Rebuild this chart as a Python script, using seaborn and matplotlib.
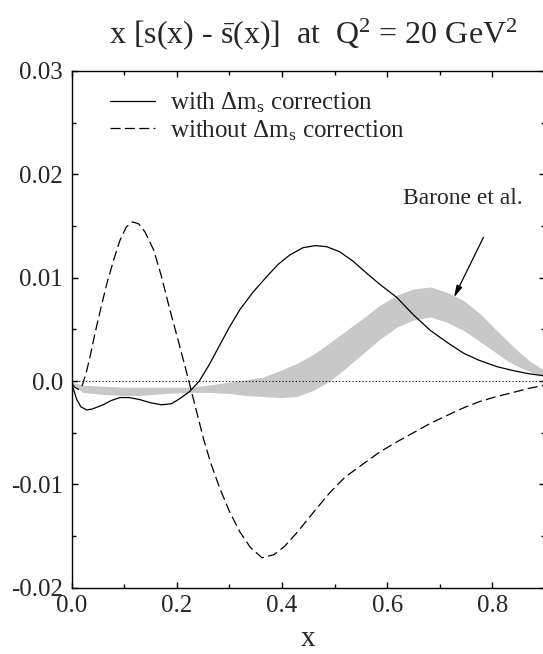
import numpy as np
import pandas as pd
import matplotlib
matplotlib.use("Agg")
import matplotlib.pyplot as plt
from matplotlib.ticker import FixedLocator, FixedFormatter, MultipleLocator
import seaborn as sns

# x [s(x) - sbar(x)] with the Delta m_s correction (solid curve)
x_with = [0.0, 0.005, 0.01, 0.018, 0.029, 0.04, 0.05, 0.06, 0.075, 0.092, 0.11,
          0.13, 0.15, 0.171, 0.19, 0.206, 0.225, 0.243, 0.262, 0.282, 0.30, 0.32,
          0.345, 0.371, 0.393, 0.415, 0.44, 0.463, 0.485, 0.51, 0.535, 0.555,
          0.585, 0.618, 0.65, 0.682, 0.715, 0.745, 0.775, 0.808, 0.84, 0.87, 0.9]
y_with = [-0.0002, -0.0010, -0.0018, -0.0025, -0.0028, -0.0027, -0.0025, -0.0023,
          -0.0019, -0.0016, -0.0016, -0.0018, -0.0021, -0.0023, -0.0022, -0.0017,
          -0.0010, 0.0000, 0.0016, 0.0035, 0.0052, 0.0069, 0.0086, 0.0101, 0.0113,
          0.0122, 0.0129, 0.0131, 0.0130, 0.0125, 0.0116, 0.0107, 0.0094, 0.0081,
          0.0064, 0.0049, 0.0037, 0.0027, 0.0020, 0.0014, 0.0010, 0.0007, 0.0005]

# the same quantity without the correction (dashed curve)
x_without = [0.0, 0.006, 0.013, 0.02, 0.028, 0.035, 0.045, 0.056, 0.067, 0.08,
             0.092, 0.104, 0.116, 0.128, 0.14, 0.156, 0.17, 0.187, 0.205, 0.223,
             0.235, 0.251, 0.265, 0.282, 0.30, 0.32, 0.34, 0.362, 0.385, 0.405,
             0.428, 0.46, 0.491, 0.52, 0.555, 0.585, 0.618, 0.65, 0.682, 0.715,
             0.745, 0.775, 0.808, 0.84, 0.87, 0.9]
y_without = [-0.0002, -0.0006, -0.0008, -0.0005, 0.0008, 0.0023, 0.0047, 0.0071,
             0.0094, 0.0117, 0.0136, 0.0149, 0.0154, 0.0152, 0.0144, 0.0127,
             0.0103, 0.0069, 0.0035, 0.0000, -0.0024, -0.0056, -0.0080, -0.0104,
             -0.0126, -0.0146, -0.0161, -0.0171, -0.0168, -0.0160, -0.0147,
             -0.0127, -0.0108, -0.0093, -0.0080, -0.0069, -0.0059, -0.0050,
             -0.0041, -0.0033, -0.0026, -0.0020, -0.0015, -0.0011, -0.0007,
             -0.0004]

# Barone et al. uncertainty band
x_band = [0.0, 0.022, 0.06, 0.10, 0.13, 0.18, 0.225, 0.26, 0.30, 0.33, 0.365,
          0.396, 0.428, 0.46, 0.491, 0.52, 0.555, 0.585, 0.618, 0.65, 0.682,
          0.713, 0.745, 0.777, 0.808, 0.83, 0.853, 0.872, 0.9]
band_upper = [-0.0001, -0.0004, -0.0005, -0.0006, -0.0006, -0.0006, -0.0006,
              -0.0004, -0.0001, 0.0001, 0.0004, 0.0010, 0.0017, 0.0026, 0.0037,
              0.0048, 0.0061, 0.0073, 0.0083, 0.0089, 0.0091, 0.0086, 0.0078,
              0.0065, 0.0049, 0.0038, 0.0027, 0.0019, 0.0010]
band_lower = [-0.0003, -0.0011, -0.0013, -0.0014, -0.0014, -0.0012, -0.0011,
              -0.0011, -0.0012, -0.0014, -0.0015, -0.0016, -0.0015, -0.0009,
              0.0000, 0.0012, 0.0027, 0.0040, 0.0052, 0.0059, 0.0062, 0.0057,
              0.0049, 0.0038, 0.0027, 0.0019, 0.0013, 0.0009, 0.0004]

x_ticks = [0.0, 0.2, 0.4, 0.6, 0.8]
x_tick_labels = ["0.0", "0.2", "0.4", "0.6", "0.8"]
y_ticks = [-0.02, -0.01, 0.0, 0.01, 0.02, 0.03]
y_tick_labels = ["-0.02", "-0.01", "0.0", "0.01", "0.02", "0.03"]

label_with = r"with $\Delta$m$_\mathrm{s}$ correction"
label_without = r"without $\Delta$m$_\mathrm{s}$ correction"
title = r"x [s(x) - $\bar{\mathrm{s}}$(x)]  at  Q$^2$ = 20 GeV$^2$"

sns.set_style("ticks")
plt.rcParams.update({
    "font.family": ["Liberation Serif", "DejaVu Serif"],
    "mathtext.fontset": "custom",
    "mathtext.rm": "Liberation Serif",
    "mathtext.it": "Liberation Serif:italic",
    "mathtext.bf": "Liberation Serif:bold",
    "axes.linewidth": 1.0,
    "axes.edgecolor": "black",
})

fig = plt.figure(figsize=(5.43, 6.54), dpi=100)
ax = fig.add_axes([71.5 / 543, 66.3 / 654, 473.5 / 543, 516.7 / 654])

# uncertainty band
ax.fill_between(x_band, band_lower, band_upper, color="#c8c8c8", lw=0, zorder=1)

# zero line
ax.axhline(0.0, color="black", lw=0.8, ls=(0, (1, 2)), zorder=2)

curves = pd.concat([
    pd.DataFrame({"x": x_with, "y": y_with, "curve": label_with}),
    pd.DataFrame({"x": x_without, "y": y_without, "curve": label_without}),
])
sns.lineplot(data=curves, x="x", y="y", style="curve",
             style_order=[label_with, label_without],
             dashes={label_with: "", label_without: (8, 3.5)},
             color="black", lw=0.9, sort=False, estimator=None, ax=ax,
             zorder=3)

leg = ax.legend(loc="upper left", bbox_to_anchor=(0.081, 0.962), frameon=False,
                fontsize=18, handlelength=1.8, handletextpad=0.6,
                borderaxespad=0, borderpad=0, labelspacing=0.12)
for h in leg.get_lines():
    h.set_linewidth(0.9)

# Barone et al. label with arrow into the band
ax.text(0.743, 0.0177, "Barone et al.", fontsize=17, ha="center", va="center")
ax.annotate("", xy=(0.727, 0.0081), xytext=(0.783, 0.0139),
            arrowprops=dict(arrowstyle="-|>,head_length=0.7,head_width=0.18",
                            color="black", lw=0.9, shrinkA=0, shrinkB=0))

ax.set_xlim(0.0, 0.9)
ax.set_ylim(-0.02, 0.03)
ax.xaxis.set_major_locator(FixedLocator(x_ticks))
ax.xaxis.set_major_formatter(FixedFormatter(x_tick_labels))
ax.xaxis.set_minor_locator(MultipleLocator(0.1))
ax.yaxis.set_major_locator(FixedLocator(y_ticks))
ax.yaxis.set_major_formatter(FixedFormatter(y_tick_labels))
ax.yaxis.set_minor_locator(MultipleLocator(0.005))
ax.tick_params(which="both", direction="in", top=True, right=True,
               labelsize=18, width=1.0, color="black")
ax.tick_params(which="major", length=4.5)
ax.tick_params(which="minor", length=3)
ax.tick_params(axis="y", pad=6)
ax.tick_params(axis="x", pad=5)

ax.set_xlabel("x", fontsize=21, va="baseline")
ax.set_ylabel("")
ax.xaxis.set_label_coords(0.5, -(646.5 - 587.7) / 516.7)

fig.text(313 / 543, 1 - 34 / 654, title, fontsize=23, ha="center", va="center")

fig.savefig("out.png", dpi=100)
